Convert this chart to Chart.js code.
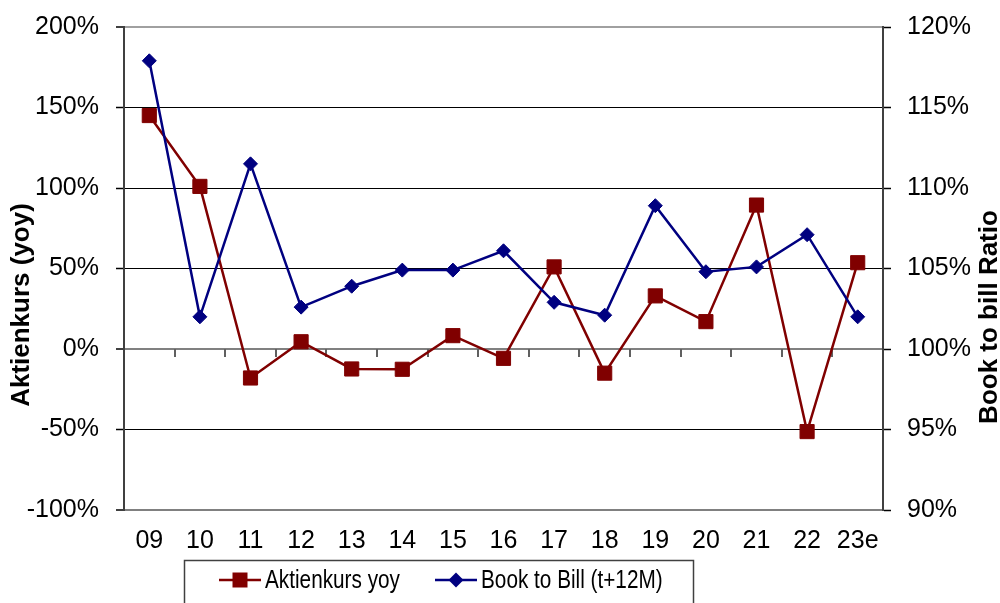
<!DOCTYPE html>
<html>
<head>
<meta charset="utf-8">
<script src="https://cdn.jsdelivr.net/npm/chart.js@4.4.0/dist/chart.umd.min.js"></script>
<style>
  html, body { margin: 0; padding: 0; background: #ffffff; }
  #wrap { width: 1000px; height: 603px; position: relative; }
</style>
</head>
<body>
<div id="wrap"><canvas id="c"></canvas></div>
<script>
// ---- data ----
const categories = ['09', '10', '11', '12', '13', '14', '15', '16', '17', '18', '19', '20', '21', '22', '23e'];
const aktienkursYoy = [145, 101, -18, 4.5, -12.4, -12.6, 8.3, -5.8, 51, -15, 33, 17, 89.4, -51.3, 53.6];
const bookToBill = [117.9, 102.0, 111.5, 102.6, 103.9, 104.9, 104.9, 106.1, 102.9, 102.1, 108.9, 104.8, 105.1, 107.1, 102.0];
const seriesNames = ['Aktienkurs yoy', 'Book to Bill (t+12M)'];
const leftAxisTitle = 'Aktienkurs (yoy)';
const rightAxisTitle = 'Book to bill Ratio';
const leftRange = [-100, 200, 50];
const rightRange = [90, 120, 5];

// ---- styles ----
const FONT = "'Liberation Sans', Arial, sans-serif";
const RED = '#800000';
const BLUE = '#000080';

function drawMarker(ctx, style, color, x, y) {
  ctx.fillStyle = color;
  ctx.beginPath();
  if (style === 'rect') {
    ctx.rect(x - 7.5, y - 7.5, 15, 15);
  } else {
    ctx.moveTo(x - 7.5, y); ctx.lineTo(x, y - 7.5); ctx.lineTo(x + 7.5, y); ctx.lineTo(x, y + 7.5); ctx.closePath();
  }
  ctx.fill();
}

const extras = {
  id: 'extras',
  beforeDatasetsDraw(chart) {
    const { ctx, scales: { x, y } } = chart;
    const y0 = Math.round(y.getPixelForValue(0));
    ctx.save();
    ctx.strokeStyle = '#606060';
    ctx.lineWidth = 2;
    for (let k = 1; k < categories.length; k++) {
      const px = Math.round((x.getPixelForValue(k - 1) + x.getPixelForValue(k)) / 2);
      ctx.beginPath(); ctx.moveTo(px, y0); ctx.lineTo(px, y0 + 8); ctx.stroke();
    }
    ctx.restore();
  },
  afterDraw(chart) {
    const { ctx } = chart;
    ctx.save();
    // axis titles (both read bottom-to-top)
    ctx.font = 'bold 26px ' + FONT;
    ctx.fillStyle = '#000';
    ctx.textAlign = 'center';
    ctx.textBaseline = 'alphabetic';
    ctx.save(); ctx.translate(29, 305); ctx.rotate(-Math.PI / 2); ctx.fillText(leftAxisTitle, 0, 0); ctx.restore();
    ctx.save(); ctx.translate(997, 317); ctx.rotate(-Math.PI / 2); ctx.fillText(rightAxisTitle, 0, 0); ctx.restore();

    // legend
    ctx.strokeStyle = '#404040';
    ctx.lineWidth = 1.5;
    ctx.strokeRect(184.5, 560.5, 509, 60);
    const items = [
      { x: 219, color: RED, style: 'rect', text: chart.data.datasets[0].label },
      { x: 435, color: BLUE, style: 'rectRot', text: chart.data.datasets[1].label }
    ];
    const ly = 580;
    ctx.font = '25px ' + FONT;
    ctx.textAlign = 'left';
    ctx.textBaseline = 'middle';
    items.forEach(it => {
      ctx.strokeStyle = it.color; ctx.lineWidth = 2.5;
      ctx.beginPath(); ctx.moveTo(it.x, ly); ctx.lineTo(it.x + 42, ly); ctx.stroke();
      drawMarker(ctx, it.style, it.color, it.x + 21, ly);
      ctx.fillStyle = '#000';
      ctx.save();
      ctx.translate(it.x + 46, ly + 1);
      ctx.scale(0.83, 1);
      ctx.fillText(it.text, 0, 0);
      ctx.restore();
    });
    ctx.restore();
  }
};

const edgeColor = (c) => {
  const v = c.tick && c.tick.value;
  if (v === leftRange[1]) return '#a0a0a0';
  if (v === leftRange[0] || v === 0) return '#808080';
  return '#000000';
};
const edgeWidth = (c) => {
  const v = c.tick && c.tick.value;
  if (v === leftRange[1] || v === leftRange[0] || v === 0) return 2;
  return 1;
};
const noPad = (s, w) => { s.width = w; s.paddingTop = 0; s.paddingBottom = 0; };

new Chart(document.getElementById('c'), {
  type: 'line',
  data: {
    labels: categories,
    datasets: [
      {
        label: seriesNames[0],
        data: aktienkursYoy,
        yAxisID: 'y',
        borderColor: RED,
        backgroundColor: RED,
        borderWidth: 2.5,
        pointStyle: 'rect',
        pointRadius: 10,
        pointBorderWidth: 1,
        pointBackgroundColor: RED,
        pointBorderColor: RED,
        tension: 0,
        order: 1
      },
      {
        label: seriesNames[1],
        data: bookToBill,
        yAxisID: 'y1',
        borderColor: BLUE,
        backgroundColor: BLUE,
        borderWidth: 2.5,
        pointStyle: 'rectRot',
        pointRadius: 7,
        pointBorderWidth: 1,
        pointBackgroundColor: BLUE,
        pointBorderColor: BLUE,
        tension: 0,
        order: 0
      }
    ]
  },
  options: {
    responsive: true,
    maintainAspectRatio: false,
    animation: false,
    events: [],
    layout: { padding: { top: 27, bottom: 43, left: 0, right: 0 } },
    plugins: { legend: { display: false }, tooltip: { enabled: false } },
    scales: {
      x: {
        type: 'category',
        offset: true,
        grid: { display: false, drawTicks: false },
        border: { display: false },
        ticks: { color: '#000', font: { family: FONT, size: 25 }, padding: 16, maxRotation: 0, autoSkip: false },
        afterFit(s) { s.height = 50; s.paddingLeft = 0; s.paddingRight = 0; }
      },
      y: {
        position: 'left',
        min: leftRange[0], max: leftRange[1],
        ticks: { stepSize: leftRange[2], color: '#000', font: { family: FONT, size: 25 }, padding: 17,
                 callback: v => v + '%' },
        grid: { color: edgeColor, lineWidth: edgeWidth, tickColor: '#000', tickWidth: 1.5, tickLength: 8, drawTicks: true },
        border: { display: true, color: '#404040', width: 2 },
        afterFit(s) { noPad(s, 124); }
      },
      y1: {
        position: 'right',
        min: rightRange[0], max: rightRange[1],
        ticks: { stepSize: rightRange[2], color: '#000', font: { family: FONT, size: 25 }, padding: 16,
                 callback: v => v + '%' },
        grid: { drawOnChartArea: false, tickColor: '#000', tickWidth: 1.5, tickLength: 8, drawTicks: true },
        border: { display: true, color: '#404040', width: 2 },
        afterFit(s) { noPad(s, 117); }
      }
    }
  },
  plugins: [extras]
});
</script>
</body>
</html>
